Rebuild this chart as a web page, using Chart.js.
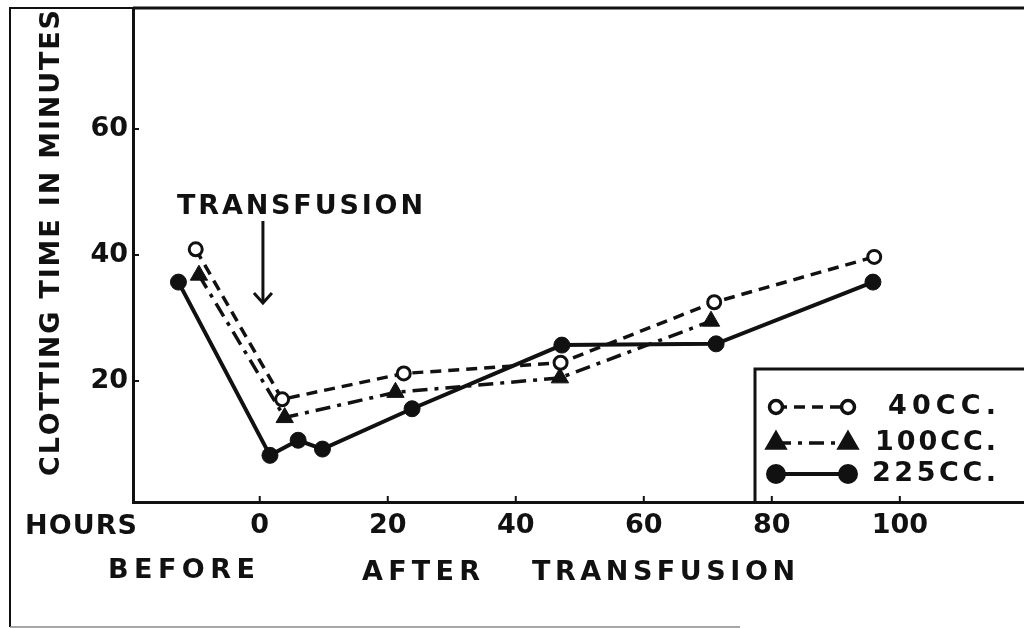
<!DOCTYPE html>
<html>
<head>
<meta charset="utf-8">
<script src="https://cdn.jsdelivr.net/npm/chart.js@4"></script>
<style>
html, body { margin: 0; padding: 0; background: #fff; }
canvas { display: block; }
</style>
</head>
<body>
<canvas id="chart" width="1024" height="628"></canvas>
<script>
// values (hours, clotting time in minutes)
const hours40 = [-10, 3.5, 22.5, 47, 71, 96];
const clot40 = [40.9, 17.1, 21.2, 22.9, 32.5, 39.7];
const hours100 = [-9.5, 3.9, 21.2, 46.9, 70.5];
const clot100 = [36.8, 14.2, 18.2, 20.5, 29.5];
const hours225 = [-12.7, 1.6, 6, 9.8, 23.8, 47.2, 71.3, 95.8];
const clot225 = [35.7, 8.2, 10.6, 9.2, 15.6, 25.7, 25.9, 35.7];

const seriesLabels = ["40CC.", "100CC.", "225CC."];
const xTicks = [0, 20, 40, 60, 80, 100];
const yTicks = [20, 40, 60];

const FONT = "DejaVu Sans";
const INK = "#111";

function pts(xs, ys) {
    return xs.map((x, i) => ({ x: x, y: ys[i] }));
}

// draw capitals spread out to fill a given width, centred vertically on cy
function spaced(ctx, text, x, cy, width, size) {
    ctx.font = "bold " + size + "px '" + FONT + "'";
    ctx.textAlign = "left";
    ctx.textBaseline = "alphabetic";
    const chars = text.split("");
    const widths = chars.map(c => ctx.measureText(c).width);
    const total = widths.reduce((a, b) => a + b, 0);
    const gap = chars.length > 1 ? (width - total) / (chars.length - 1) : 0;
    const base = cy + size * 0.365;
    let px = x;
    chars.forEach((c, i) => {
        ctx.fillText(c, px, base);
        px += widths[i] + gap;
    });
}

const decorations = {
    id: "decorations",
    afterDraw(chart) {
        const ctx = chart.ctx;
        const area = chart.chartArea;
        const xs = chart.scales.x;
        const ys = chart.scales.y;
        ctx.save();
        ctx.fillStyle = INK;
        ctx.strokeStyle = INK;
        ctx.setLineDash([]);

        // outer frame
        ctx.lineWidth = 2;
        ctx.beginPath();
        ctx.moveTo(10, 627);
        ctx.lineTo(10, 8);
        ctx.lineTo(1024, 8);
        ctx.stroke();
        ctx.strokeStyle = "#888";
        ctx.lineWidth = 1.5;
        ctx.beginPath();
        ctx.moveTo(10, 627);
        ctx.lineTo(740, 627);
        ctx.stroke();
        ctx.strokeStyle = INK;

        // top of the plot box
        ctx.lineWidth = 3;
        ctx.beginPath();
        ctx.moveTo(area.left, area.top);
        ctx.lineTo(area.right, area.top);
        ctx.stroke();

        // small inward tick marks
        ctx.lineWidth = 2;
        xTicks.forEach(v => {
            const px = xs.getPixelForValue(v);
            ctx.beginPath();
            ctx.moveTo(px, area.bottom);
            ctx.lineTo(px, area.bottom - 6);
            ctx.stroke();
        });
        yTicks.forEach(v => {
            const py = ys.getPixelForValue(v);
            ctx.beginPath();
            ctx.moveTo(area.left, py);
            ctx.lineTo(area.left + 6, py);
            ctx.stroke();
        });

        // axis words
        spaced(ctx, "HOURS", 25, 524, 112, 27);
        spaced(ctx, "BEFORE", 108, 568, 147, 27);
        spaced(ctx, "AFTER", 362, 570, 118, 27);
        spaced(ctx, "TRANSFUSION", 532, 570, 263, 27);

        ctx.save();
        ctx.translate(49, 243);
        ctx.rotate(-Math.PI / 2);
        spaced(ctx, "CLOTTING TIME IN MINUTES", -233, 0, 466, 27);
        ctx.restore();

        // transfusion marker
        spaced(ctx, "TRANSFUSION", 177, 204, 246, 27);
        const ax = xs.getPixelForValue(0.5);
        const ay0 = ys.getPixelForValue(45.4);
        const ay1 = ys.getPixelForValue(32.4);
        ctx.lineWidth = 3;
        ctx.beginPath();
        ctx.moveTo(ax, ay0);
        ctx.lineTo(ax, ay1 - 2);
        ctx.stroke();
        ctx.beginPath();
        ctx.moveTo(ax - 9, ay1 - 10);
        ctx.lineTo(ax, ay1);
        ctx.lineTo(ax + 9, ay1 - 10);
        ctx.stroke();

        // legend box
        ctx.lineWidth = 3;
        ctx.beginPath();
        ctx.moveTo(755, area.bottom);
        ctx.lineTo(755, 369);
        ctx.lineTo(1024, 369);
        ctx.stroke();

        const rows = [407, 443, 474];
        const textX = [888, 875, 872];
        chart.data.datasets.forEach((ds, i) => {
            const y = rows[i];
            ctx.save();
            ctx.strokeStyle = INK;
            ctx.lineWidth = ds.borderWidth;
            ctx.setLineDash(ds.borderDash || []);
            ctx.beginPath();
            ctx.moveTo(776, y);
            ctx.lineTo(848, y);
            ctx.stroke();
            ctx.setLineDash([]);
            ctx.fillStyle = ds.pointBackgroundColor;
            ctx.strokeStyle = ds.pointBorderColor;
            const opts = {
                pointStyle: ds.pointStyle,
                rotation: 0,
                radius: ds.pointRadius,
                borderWidth: ds.pointBorderWidth
            };
            Chart.helpers.drawPoint(ctx, opts, 776, y);
            Chart.helpers.drawPoint(ctx, opts, 848, y);
            ctx.restore();
            ctx.fillStyle = INK;
            spaced(ctx, seriesLabels[i], textX[i], y - 3, 996 - textX[i], 27);
        });

        ctx.restore();
    }
};

new Chart(document.getElementById("chart"), {
    type: "scatter",
    data: {
        datasets: [{
            label: seriesLabels[0],
            data: pts(hours40, clot40),
            showLine: true,
            borderColor: INK,
            borderWidth: 3.5,
            borderDash: [11, 7],
            pointStyle: "circle",
            pointRadius: 6.5,
            pointBorderWidth: 3,
            pointBackgroundColor: "#fff",
            pointBorderColor: INK
        }, {
            label: seriesLabels[1],
            data: pts(hours100, clot100),
            showLine: true,
            borderColor: INK,
            borderWidth: 3.5,
            borderDash: [15, 7, 4, 7],
            pointStyle: "triangle",
            pointRadius: 10,
            pointBorderWidth: 1,
            pointBackgroundColor: INK,
            pointBorderColor: INK
        }, {
            label: seriesLabels[2],
            data: pts(hours225, clot225),
            showLine: true,
            borderColor: INK,
            borderWidth: 4,
            borderDash: [],
            pointStyle: "circle",
            pointRadius: 8,
            pointBorderWidth: 1,
            pointBackgroundColor: INK,
            pointBorderColor: INK
        }]
    },
    options: {
        responsive: false,
        devicePixelRatio: 1,
        animation: false,
        layout: { autoPadding: false, padding: { left: 0, top: 8, right: 0, bottom: 0 } },
        plugins: {
            legend: { display: false },
            tooltip: { enabled: false }
        },
        scales: {
            x: {
                type: "linear",
                min: -19.8,
                max: 119.4,
                afterBuildTicks: s => { s.ticks = xTicks.map(v => ({ value: v })); },
                afterFit: s => { s.height = 126; },
                grid: { display: false, drawTicks: false },
                border: { display: true, color: INK, width: 3 },
                ticks: {
                    padding: 17,
                    color: INK,
                    font: { family: FONT, weight: "bold", size: 27, lineHeight: 0.5 }
                }
            },
            y: {
                type: "linear",
                min: 0.8,
                max: 79.2,
                afterBuildTicks: s => { s.ticks = yTicks.map(v => ({ value: v })); },
                afterFit: s => { s.width = 133; },
                grid: { display: false, drawTicks: false },
                border: { display: true, color: INK, width: 3 },
                ticks: {
                    padding: 5,
                    color: INK,
                    font: { family: FONT, weight: "bold", size: 27, lineHeight: 0.2 }
                }
            }
        }
    },
    plugins: [decorations]
});
</script>
</body>
</html>
